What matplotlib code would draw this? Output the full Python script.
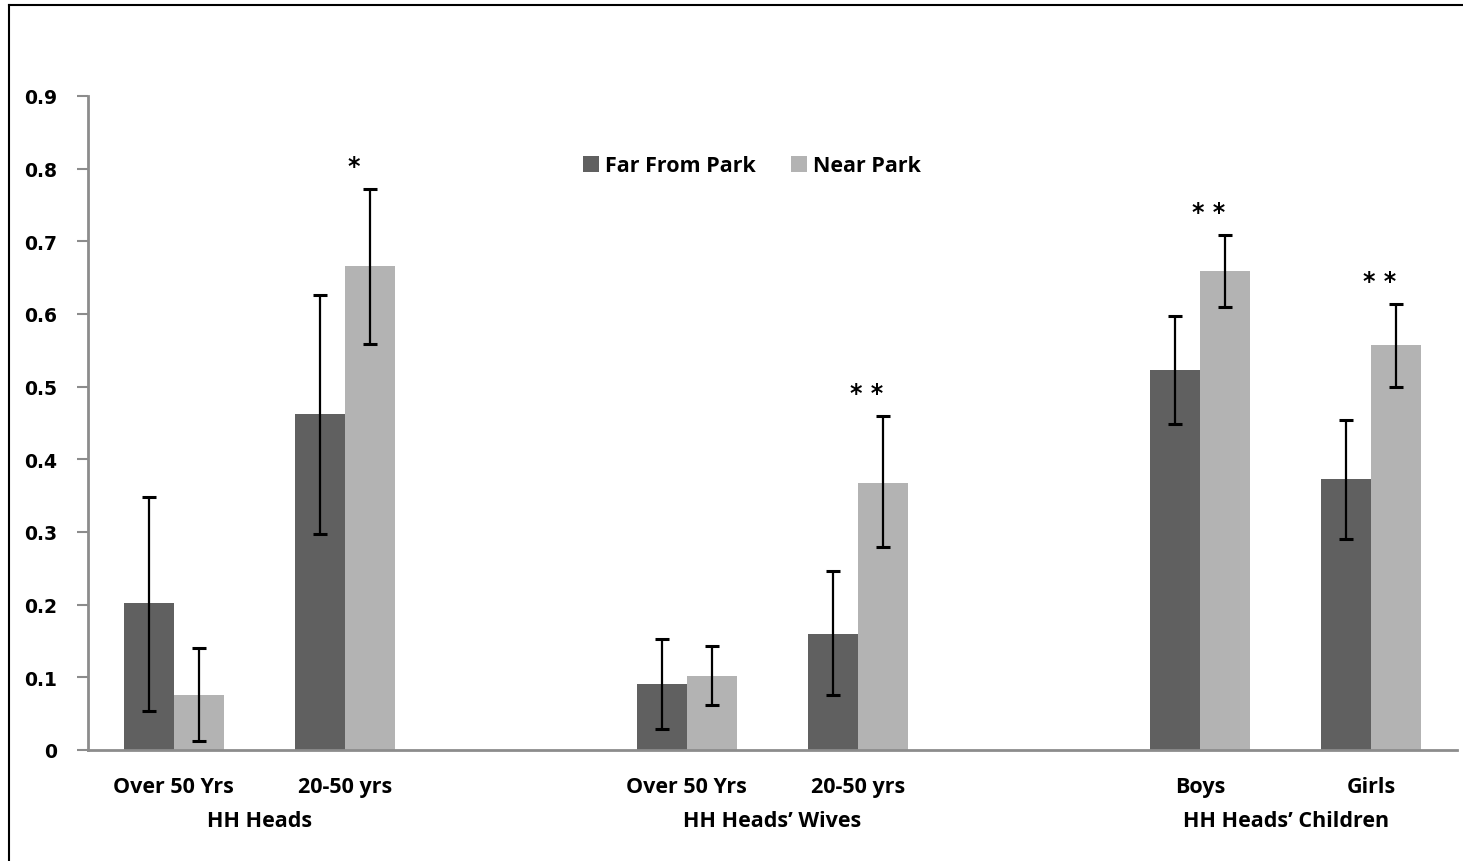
import numpy as np
import matplotlib
matplotlib.use("Agg")
import matplotlib.pyplot as plt
from matplotlib.lines import Line2D

# Categories (blank slots separate the groups, as in the original chart)
categories = ["Over 50 Yrs", "20-50 yrs", "", "Over 50 Yrs", "20-50 yrs", "", "Boys", "Girls"]
groups = ["HH Heads", "HH Heads\u2019 Wives", "HH Heads\u2019 Children"]
series = ["Far From Park", "Near Park"]

far_vals = [0.202, 0.462, np.nan, 0.091, 0.160, np.nan, 0.523, 0.373]
far_hi = [0.348, 0.626, np.nan, 0.153, 0.246, np.nan, 0.597, 0.454]
far_lo = [0.054, 0.297, np.nan, 0.029, 0.076, np.nan, 0.448, 0.290]

near_vals = [0.076, 0.666, np.nan, 0.102, 0.368, np.nan, 0.659, 0.558]
near_hi = [0.140, 0.772, np.nan, 0.143, 0.459, np.nan, 0.709, 0.614]
near_lo = [0.012, 0.559, np.nan, 0.062, 0.279, np.nan, 0.609, 0.499]

stars = ["", "*", "", "", "* *", "", "* *", "* *"]

DARK = "#606060"
LIGHT = "#b3b3b3"
AXIS = "#8c8c8c"
TXT = {"family": "Open Sans", "size": 15.5, "weight": "bold"}

fig = plt.figure(figsize=(14.63, 8.62), dpi=100)
ax = fig.add_axes([88 / 1463, 1 - 751 / 862, (1457 - 88) / 1463, (751 - 97) / 862])

x = np.arange(len(categories))
w = 0.292

far = np.array(far_vals)
near = np.array(near_vals)
far_err = [far - np.array(far_lo), np.array(far_hi) - far]
near_err = [near - np.array(near_lo), np.array(near_hi) - near]

ax.bar(x - w / 2, far, w, color=DARK, label=series[0], zorder=2)
ax.bar(x + w / 2, near, w, color=LIGHT, label=series[1], zorder=2)
ax.errorbar(x - w / 2, far, yerr=far_err, fmt="none", ecolor="black",
            elinewidth=1.6, capsize=5, capthick=2.2, zorder=3)
ax.errorbar(x + w / 2, near, yerr=near_err, fmt="none", ecolor="black",
            elinewidth=1.6, capsize=5, capthick=2.2, zorder=3)

# significance markers
tops = np.fmax(np.nan_to_num(far_hi), np.nan_to_num(near_hi))
for i, s in enumerate(stars):
    if s:
        ax.text(x[i] + 0.05, tops[i] + 0.032, s, ha="center", va="center",
                fontsize=17, fontweight="bold", color="black")

ax.set_xlim(-0.5, len(categories) - 0.5)
ax.set_ylim(0, 0.9)
ax.set_yticks(np.arange(0, 0.91, 0.1))
ax.set_yticklabels(["0"] + [f"{v:.1f}" for v in np.arange(0.1, 0.91, 0.1)],
                   fontsize=13.5, fontweight="bold")
ax.set_xticks([])

for sp in ["top", "right"]:
    ax.spines[sp].set_visible(False)
for sp in ["left", "bottom"]:
    ax.spines[sp].set_color(AXIS)
    ax.spines[sp].set_linewidth(2)
ax.tick_params(axis="y", length=8, width=1.5, color=AXIS, pad=14)

# category and group labels
for i, c in enumerate(categories):
    if c:
        ax.text(x[i], -0.05, c, ha="center", va="center", clip_on=False, **TXT)
group_centers = [(x[0] + x[1]) / 2, (x[3] + x[4]) / 2, (x[6] + x[7]) / 2]
for gx, g in zip(group_centers, groups):
    ax.text(gx, -0.097, g, ha="center", va="center", clip_on=False, **TXT)

leg = ax.legend(loc="center", bbox_to_anchor=(752 / 1463, 1 - 167 / 862),
                bbox_transform=fig.transFigure, ncol=2, frameon=False,
                handlelength=0.75, handleheight=0.75, handletextpad=0.3,
                columnspacing=1.6, prop=TXT)

# outer frame lines (left and top)
fig.add_artist(Line2D([9 / 1463, 9 / 1463], [0, 1 - 6 / 862], color="black",
                      linewidth=1.5, transform=fig.transFigure))
fig.add_artist(Line2D([9 / 1463, 1], [1 - 6 / 862, 1 - 6 / 862], color="black",
                      linewidth=1.5, transform=fig.transFigure))

fig.savefig("out.png", dpi=100)
